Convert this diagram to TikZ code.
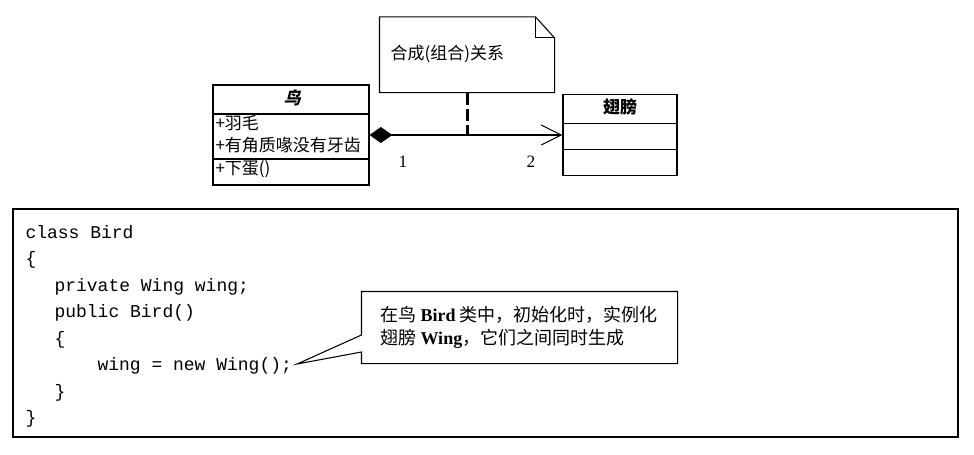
\documentclass[tikz,border=0pt]{standalone}
\usepackage{fontspec}
\setmainfont{Liberation Serif}
\setmonofont{Liberation Mono}
\newfontfamily\cjk{Noto Sans CJK SC}
\newfontfamily\cjkbi[FakeSlant=0.25]{Noto Sans CJK SC}
\usetikzlibrary{arrows.meta,calc}
\begin{document}
\begin{tikzpicture}[x=0.75pt,y=-0.75pt,line width=0.8pt,
  cn/.style={font=\cjk\fontsize{12.75pt}{15pt}\selectfont, inner sep=0, anchor=base west},
  cnbig/.style={font=\cjk\fontsize{13.5pt}{16pt}\selectfont, inner sep=0, anchor=base west},
  codeline/.style={font=\ttfamily\fontsize{13.5pt}{16pt}\selectfont, inner sep=0, anchor=base west},
  mult/.style={font=\fontsize{13pt}{15pt}\selectfont, inner sep=0, anchor=base},
  plainbox/.style={inner sep=0}]
\useasboundingbox (0,0) rectangle (974,454);

% note
\node[plainbox, minimum width=130.5pt, minimum height=56pt] (note) at (467,54.75) {};
\draw (note.south west) -- (note.north west) -- ([xshift=-14.25pt]note.north east) -- ([yshift=-15.75pt]note.north east) -- (note.south east) -- cycle;
\draw ([xshift=-14.25pt]note.north east) -- ([xshift=-14.25pt,yshift=-15.75pt]note.north east) -- ([yshift=-15.75pt]note.north east);
\node[cn] (notetext) at (390,59.5) {合成(组合)关系};

% class Bird
\node[draw, plainbox, minimum width=117pt, minimum height=75pt] (bird) at (291,135) {};
\draw (bird.west |- 0,114) -- (bird.east |- 0,114);
\draw (bird.west |- 0,159) -- (bird.east |- 0,159);
\node[cn, anchor=base, font=\cjkbi\bfseries\fontsize{12.75pt}{15pt}\selectfont] (birdtitle) at (292,104.5) {鸟};
\node[cn] (attr1) at (215,129.5) {+羽毛};
\node[cn] (attr2) at (215,151.5) {+有角质喙没有牙齿};
\node[cn] (op1) at (215,174.5) {+下蛋()};

% class Wing
\node[draw, plainbox, minimum width=85.5pt, minimum height=60.75pt] (wing) at (620,135) {};
\draw (wing.west |- 0,123.5) -- (wing.east |- 0,123.5);
\draw (wing.west |- 0,149.5) -- (wing.east |- 0,149.5);
\node[cn, anchor=base, font=\cjk\bfseries\fontsize{12.75pt}{15pt}\selectfont] (wingtitle) at (620,113) {翅膀};

% association
\draw[{Diamond[length=17pt,width=12pt]}-{Straight Barb[length=15pt,width=15pt]}] (bird.east) -- (wing.west);
\draw[line width=2.25pt, dash pattern=on 9pt off 3pt] (note.south) -- (note.south |- bird.east);
\node[mult] (m1) at (403,167) {1};
\node[mult] (m2) at (531,167) {2};

% code box
\node[draw, plainbox, minimum width=708.75pt, minimum height=171pt] (codebox) at (485.5,323) {};
\node[codeline] (c1) at (25,238) {class Bird};
\node[codeline] (c2) at (25,264.5) {\{};
\node[codeline] (c3) at (54,291) {private Wing wing;};
\node[codeline] (c4) at (54,317.5) {public Bird()};
\node[codeline] (c5) at (54,344) {\{};
\node[codeline] (c6) at (97,370) {wing = new Wing();};
\node[codeline] (c7) at (54,397) {\}};
\node[codeline] (c8) at (25,423) {\}};

% callout
\node[plainbox, minimum width=236.25pt, minimum height=53.25pt] (callout) at (519.5,327.5) {};
\coordinate (tip) at (297,364);
\draw (callout.north west) -- (callout.north east) -- (callout.south east) -- (callout.south west) -- (callout.west |- 0,352) -- (tip) -- (callout.west |- 0,335) -- cycle;
\node[cnbig] (call1) at (380,321.5) {在鸟 {\rmfamily\bfseries Bird} 类中，初始化时，实例化};
\node[cnbig] (call2) at (380,344) {翅膀 {\rmfamily\bfseries Wing}，它们之间同时生成};
\end{tikzpicture}
\end{document}
